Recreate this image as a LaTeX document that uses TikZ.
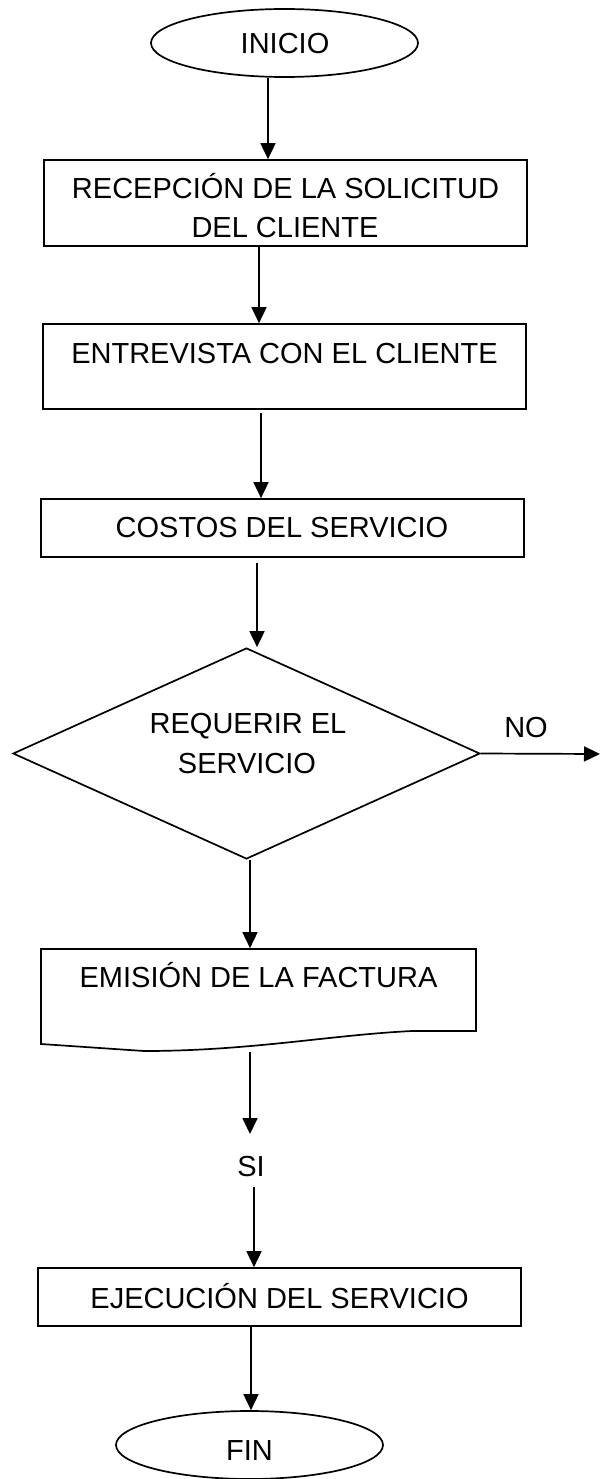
\documentclass[tikz,border=0pt]{standalone}
\usepackage{fontspec}
\setmainfont{Liberation Sans}
\usetikzlibrary{shapes.geometric,arrows.meta}
\begin{document}
\begin{tikzpicture}[x=1pt,y=-1pt,
  line width=1.7pt,
  procbox/.style={draw, rectangle, inner sep=0pt, minimum width=483pt},
  oval/.style={draw, ellipse, inner sep=0pt, minimum width=267pt, minimum height=68pt},
  lbl/.style={anchor=base, inner sep=0pt, font=\fontsize{29}{37}\selectfont},
  arr/.style={-{Triangle[length=16pt,width=15pt]}}]
\fill[white] (0,0) rectangle (600,1479);
\useasboundingbox (0,0) rectangle (600,1479);

% shapes
\node[oval] (inicio) at (284.5,43) {};
\node[procbox, minimum height=86pt] (b1) at (285.5,203) {};
\node[procbox, minimum height=85pt] (b2) at (284.5,366.5) {};
\node[procbox, minimum height=58pt] (b3) at (282.5,528) {};
\node[draw, diamond, aspect=2.213, minimum width=467pt, minimum height=211pt, inner sep=0pt] (dec) at (246.5,753.5) {};
\node[rectangle, inner sep=0pt, minimum width=435pt, minimum height=102pt] (doc) at (258.5,1000) {};
\draw (41,1044) -- (41,949) -- (476,949) -- (476,1031) -- (412,1031)
  .. controls (330,1035) and (250,1051) .. (144,1051) -- cycle;
\node[procbox, minimum height=58pt] (ejec) at (279.5,1297) {};
\node[oval] (fin) at (249.5,1445) {};

% texts
\node[lbl] (tinicio) at (285,54) {INICIO};
\node[lbl] (t1a) at (285.5,199) {RECEPCIÓN DE LA SOLICITUD};
\node[lbl] (t1b) at (285,237) {DEL CLIENTE};
\node[lbl] (t2) at (284.5,363) {ENTREVISTA CON EL CLIENTE};
\node[lbl] (t3) at (282,537) {COSTOS DEL SERVICIO};
\node[lbl] (tda) at (248,733) {REQUERIR EL};
\node[lbl] (tdb) at (247,773) {SERVICIO};
\node[lbl] (tno) at (526,737) {NO};
\node[lbl] (tdoc) at (258.5,987) {EMISIÓN DE LA FACTURA};
\node[lbl] (si) at (251,1176) {SI};
\node[lbl] (tej) at (279.5,1308) {EJECUCIÓN DEL SERVICIO};
\node[lbl] (tfin) at (249.5,1460) {FIN};

% x positions of connectors
\coordinate (xa) at (268,0);
\coordinate (xb) at (259,0);
\coordinate (xc) at (261,0);
\coordinate (xd) at (257,0);
\coordinate (xe) at (250,0);
\coordinate (xf) at (254,0);
\coordinate (xg) at (251,0);
\coordinate (noend) at (600,754);

% connectors
\draw[arr] (inicio.south -| xa) -- (b1.north -| xa);
\draw[arr] (b1.south -| xb) -- (b2.north -| xb);
\draw[arr, shorten <=3pt] (b2.south -| xc) -- (b3.north -| xc);
\draw[arr, shorten <=5pt] (b3.south -| xd) -- (dec.north -| xd);
\draw[arr] (dec.east) -- (noend);
\draw[arr] (dec.south -| xe) -- (doc.north -| xe);
\draw[arr] (doc.south -| xe) -- ([yshift=42pt]si.base -| xe);
\draw[arr] ([yshift=-11pt]si.base -| xf) -- (ejec.north -| xf);
\draw[arr] (ejec.south -| xg) -- (fin.north -| xg);
\end{tikzpicture}
\end{document}
